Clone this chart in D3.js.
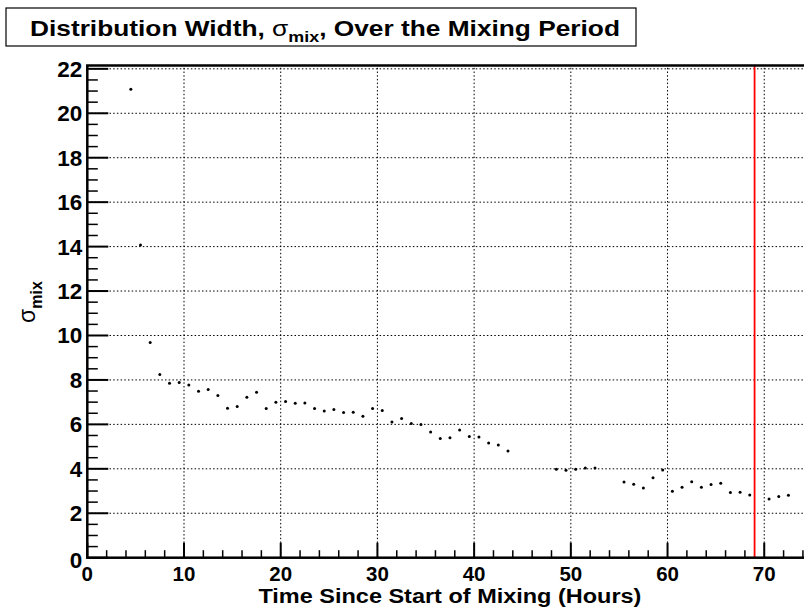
<!DOCTYPE html>
<html><head><meta charset="utf-8">
<script src="https://cdn.jsdelivr.net/npm/d3@7"></script>
<style>body{margin:0;background:#fff}svg{display:block}text{font-family:"Liberation Sans",Arial,sans-serif;font-weight:bold}</style>
</head><body><svg id="c" width="804" height="608"></svg>
<script>
const hours = [4.5,5.5,6.5,7.5,8.5,9.5,10.5,11.5,12.5,13.5,14.5,15.5,16.5,17.5,18.5,19.5,20.5,21.5,22.5,23.5,24.5,25.5,26.5,27.5,28.5,29.5,30.5,31.5,32.5,33.5,34.5,35.5,36.5,37.5,38.5,39.5,40.5,41.5,42.5,43.5,48.5,49.5,50.5,51.5,52.5,55.5,56.5,57.5,58.5,59.5,60.5,61.5,62.5,63.5,64.5,65.5,66.5,67.5,68.5,70.5,71.5,72.5];
const sigmaMix = [21.08,14.07,9.68,8.24,7.85,7.88,7.77,7.49,7.57,7.30,6.72,6.80,7.22,7.45,6.71,7.00,7.03,6.95,6.96,6.71,6.60,6.67,6.53,6.55,6.36,6.71,6.62,6.11,6.26,6.04,5.99,5.66,5.36,5.40,5.75,5.45,5.43,5.16,5.07,4.80,3.98,3.93,3.98,4.04,4.04,3.41,3.30,3.14,3.60,3.95,2.99,3.17,3.42,3.17,3.29,3.35,2.93,2.94,2.82,2.64,2.75,2.81];
const xTicks = [0,10,20,30,40,50,60,70];
const yTicks = [0,2,4,6,8,10,12,14,16,18,20,22];
const cutLine = 69;
const xDomain = [0,75], yDomain = [0,22.15];

const svg = d3.select("#c");
const L = 87.3, R = 812.6, T = 65.5, B = 557.7;
const x = d3.scaleLinear().domain(xDomain).range([L,R]);
const y = d3.scaleLinear().domain(yDomain).range([B,T]);

// grid
const g = svg.append("g");
g.selectAll(".vg").data(xTicks.filter(d=>d>0)).join("line")
  .attr("x1",d=>x(d)).attr("x2",d=>x(d)).attr("y1",B).attr("y2",T)
  .attr("stroke","#000").attr("stroke-width",1).attr("stroke-dasharray","1.5,2.2");
g.selectAll(".hg").data(yTicks.filter(d=>d>0)).join("line")
  .attr("x1",L).attr("x2",R).attr("y1",d=>y(d)).attr("y2",d=>y(d))
  .attr("stroke","#000").attr("stroke-width",1).attr("stroke-dasharray","1.5,2.2");

// ticks (inward)
const xMinor = d3.range(0,75.01,2).filter(d=>d%10!==0);
const yMinor = d3.range(0,22.01,0.5).filter(d=>Math.abs(d/2-Math.round(d/2))>1e-6);
svg.append("g").selectAll("line").data(xTicks).join("line")
  .attr("x1",d=>x(d)).attr("x2",d=>x(d)).attr("y1",B).attr("y2",B-15).attr("stroke","#000").attr("stroke-width",2);
svg.append("g").selectAll("line").data(xMinor).join("line")
  .attr("x1",d=>x(d)).attr("x2",d=>x(d)).attr("y1",B).attr("y2",B-7.5).attr("stroke","#000").attr("stroke-width",1.5);
svg.append("g").selectAll("line").data(yTicks).join("line")
  .attr("x1",L).attr("x2",L+21).attr("y1",d=>y(d)).attr("y2",d=>y(d)).attr("stroke","#000").attr("stroke-width",2);
svg.append("g").selectAll("line").data(yMinor).join("line")
  .attr("x1",L).attr("x2",L+10.5).attr("y1",d=>y(d)).attr("y2",d=>y(d)).attr("stroke","#000").attr("stroke-width",1.5);

// red line
svg.append("line").attr("x1",x(cutLine)).attr("x2",x(cutLine)).attr("y1",B).attr("y2",T)
  .attr("stroke","#ff0000").attr("stroke-width",1.8);

// frame
svg.append("rect").attr("x",L).attr("y",T).attr("width",R-L).attr("height",B-T)
  .attr("fill","none").attr("stroke","#000").attr("stroke-width",2.5);

// points
svg.append("g").selectAll("circle").data(hours.map((h,i)=>[h,sigmaMix[i]])).join("circle")
  .attr("cx",d=>x(d[0])).attr("cy",d=>y(d[1])).attr("r",1.5).attr("fill","#000");

// tick labels
svg.append("g").selectAll("text").data(xTicks).join("text")
  .attr("x",d=>x(d)).attr("y",B+23).attr("text-anchor","middle").attr("font-size",20.5).text(d=>d);
svg.append("g").selectAll("text").data(yTicks).join("text")
  .attr("x",L-5).attr("y",d=>y(d)+(d===0?10:8)).attr("text-anchor","end").attr("font-size",22.5).text(d=>d);

// axis titles
svg.append("text").attr("x",(L+R)/2 - 191.5).attr("y",603).attr("font-size",19.5)
  .attr("textLength",383).attr("lengthAdjust","spacingAndGlyphs")
  .text("Time Since Start of Mixing (Hours)");
const yt = svg.append("text").attr("transform","translate(35,302) rotate(-90)").attr("text-anchor","middle").attr("font-size",23);
yt.append("tspan").attr("font-weight","normal").text("σ");
yt.append("tspan").attr("dy",7).attr("font-size",16).text("mix");

// title box
svg.append("rect").attr("x",6).attr("y",8).attr("width",630).attr("height",38).attr("fill","#fff").attr("stroke","#000").attr("stroke-width",1.2);
const tt = svg.append("text").attr("x",30).attr("y",36).attr("font-size",22)
  .attr("textLength",590).attr("lengthAdjust","spacingAndGlyphs");
tt.append("tspan").text("Distribution Width, ");
tt.append("tspan").attr("font-weight","normal").text("σ");
tt.append("tspan").attr("dy",6).attr("font-size",15).text("mix");
tt.append("tspan").attr("dy",-6).text(", Over the Mixing Period");
</script></body></html>
